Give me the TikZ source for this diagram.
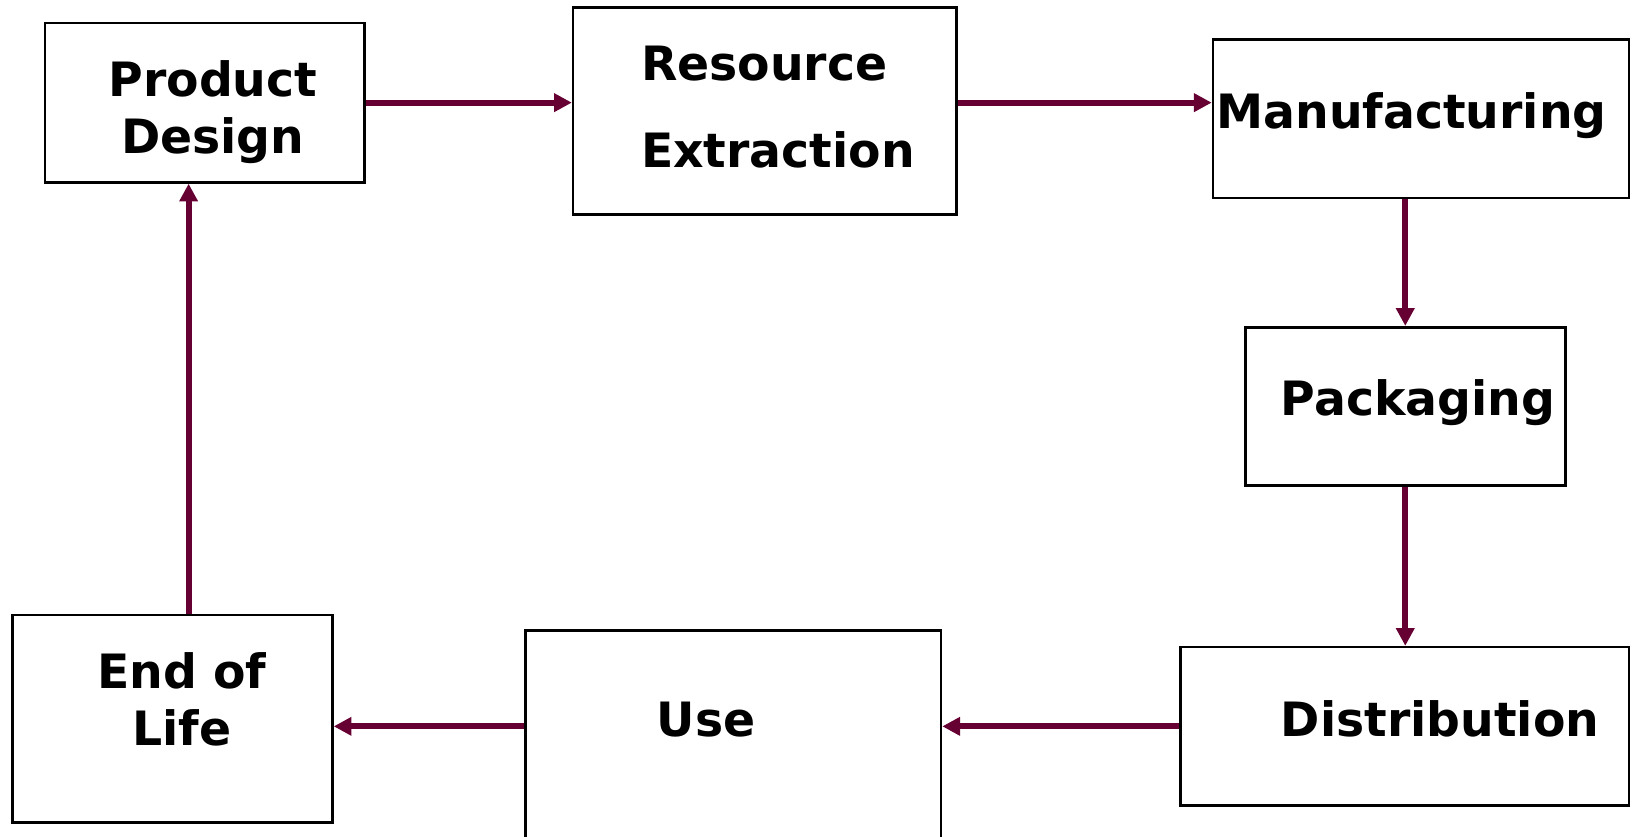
\documentclass[tikz,border=0pt]{standalone}
\usepackage{fontspec}
\setmainfont{DejaVu Sans}
\usetikzlibrary{arrows.meta}
\definecolor{arrowc}{HTML}{660033}
\tikzset{
  box/.style={draw=black, line width=2.5pt, fill=none, inner sep=0pt, rectangle},
  lbl/.style={anchor=base west, inner sep=0pt, font=\fontsize{45.4}{52}\selectfont\bfseries},
  arr/.style={draw=arrowc, line width=5.8pt, -{Triangle[length=17pt,width=17pt]}}
}
\begin{document}
\begin{tikzpicture}[x=1pt,y=-1pt]
\useasboundingbox (0,0) rectangle (1568,803);
% boxes
\node[box, minimum width=307pt, minimum height=153pt] (pd) at (196.5,98.5) {};
\node[box, minimum width=368pt, minimum height=199pt] (re) at (734,106.5) {};
\node[box, minimum width=399pt, minimum height=152pt] (man) at (1363.5,114) {};
\node[box, minimum width=307pt, minimum height=152pt] (pack) at (1348.5,390) {};
\node[box, minimum width=430pt, minimum height=152pt] (dist) at (1348,697) {};
\node[box, minimum width=399pt, minimum height=250pt] (use) at (703.5,730) {};
\node[box, minimum width=307pt, minimum height=199pt] (eol) at (165.5,689.5) {};
% labels
\node[lbl] (t1) at (104,93) {Product};
\node[lbl] (t2) at (116,147) {Design};
\node[lbl] (t3) at (615,77) {Resource};
\node[lbl] (t4) at (615,161) {Extraction};
\node[lbl] (t5) at (1167,123) {Manufacturing};
\node[lbl] (t6) at (1229,399) {Packaging};
\node[lbl] (t7) at (1229,707) {Distribution};
\node[lbl] (t8) at (630,707) {Use};
\node[lbl] (t9) at (93,661) {End of};
\node[lbl] (t10) at (127,715) {Life};
% connectors
\coordinate (upx) at (181,0);
\draw[arr] (pd.east) -- (pd.east -| re.west);
\draw[arr] (pd.east -| re.east) -- (pd.east -| man.west);
\draw[arr] (pack.north |- man.south) -- (pack.north);
\draw[arr] (pack.south) -- (pack.south |- dist.north);
\draw[arr] (dist.west) -- (dist.west -| use.east);
\draw[arr] (dist.west -| use.west) -- (dist.west -| eol.east);
\draw[arr] (upx |- eol.north) -- (upx |- pd.south);
\end{tikzpicture}
\end{document}
